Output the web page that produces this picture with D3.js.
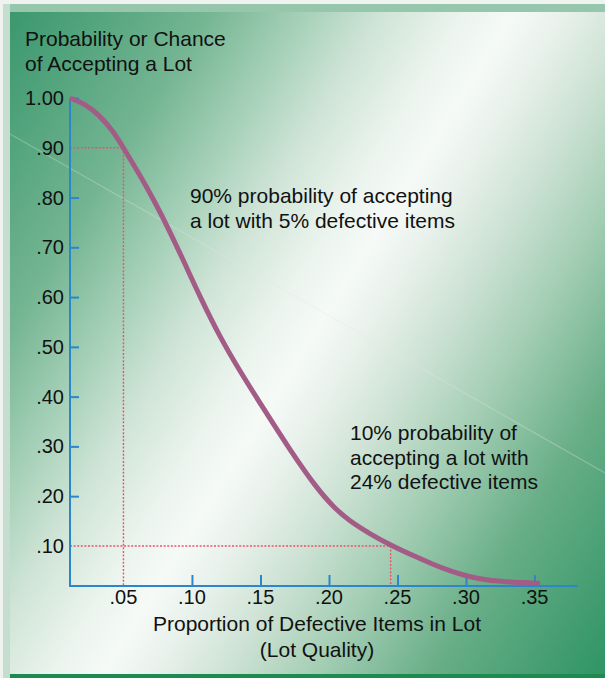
<!DOCTYPE html>
<html>
<head>
<meta charset="utf-8">
<script src="https://cdn.jsdelivr.net/npm/d3@7"></script>
<style>
  html, body { margin: 0; padding: 0; background: #eef3ef; }
  svg { display: block; }
  text { font-family: "Liberation Sans", Arial, Helvetica, sans-serif; fill: #111; }
</style>
</head>
<body>
<svg id="chart" width="605" height="678"></svg>
<script>
// ---- data ----
const defectProportion = [0.011, 0.022, 0.033, 0.042, 0.050, 0.062, 0.073, 0.084, 0.095, 0.106, 0.120, 0.135, 0.152, 0.1715, 0.191, 0.204, 0.215, 0.230, 0.246, 0.261, 0.276, 0.288, 0.301, 0.314, 0.325, 0.339, 0.354];
const acceptProbability = [1.000, 0.988, 0.964, 0.935, 0.900, 0.845, 0.791, 0.731, 0.666, 0.600, 0.522, 0.451, 0.377, 0.293, 0.216, 0.176, 0.150, 0.124, 0.100, 0.081, 0.063, 0.050, 0.039, 0.032, 0.029, 0.026, 0.025];
const yTickLabels = ["1.00", ".90", ".80", ".70", ".60", ".50", ".40", ".30", ".20", ".10"];
const yTickLabelValues = [1.0, 0.9, 0.8, 0.7, 0.6, 0.5, 0.4, 0.3, 0.2, 0.1];
const yTickMarkValues = [1.0, 0.8, 0.7, 0.6, 0.5, 0.4, 0.3, 0.2];
const xTickLabels = [".05", ".10", ".15", ".20", ".25", ".30", ".35"];
const xTickLabelValues = [0.05, 0.10, 0.15, 0.20, 0.25, 0.30, 0.35];
const xTickMarkValues = [0.10, 0.15, 0.20, 0.25, 0.30, 0.35];
const guidePoints = [{x: 0.05, y: 0.90}, {x: 0.245, y: 0.10}];
const titleLines = ["Probability or Chance", "of Accepting a Lot"];
const xTitleLines = ["Proportion of Defective Items in Lot", "(Lot Quality)"];
const note1 = ["90% probability of accepting", "a lot with 5% defective items"];
const note2 = ["10% probability of", "accepting a lot with", "24% defective items"];

const svg = d3.select("#chart");
const W = 605, H = 678;

// ---- background ----
const defs = svg.append("defs");
const g1 = defs.append("linearGradient").attr("id", "bg")
  .attr("gradientUnits", "userSpaceOnUse")
  .attr("x1", 0).attr("y1", 0).attr("x2", 738.6).attr("y2", 459.4);
[[0, "#37956b"], [0.10, "#52a47d"], [0.21, "#74b592"], [0.30, "#a3cfb6"], [0.38, "#cfe4d6"],
 [0.46, "#ebf4ee"], [0.51, "#f6faf7"], [0.56, "#e8f1eb"], [0.63, "#cde2d4"], [0.72, "#a2cdb3"],
 [0.83, "#68ae87"], [1.0, "#2f9464"]].forEach(([o, c]) => g1.append("stop").attr("offset", o).attr("stop-color", c));

svg.append("rect").attr("x", 0).attr("y", 0).attr("width", W).attr("height", H).attr("fill", "#eef3ef");
svg.append("rect").attr("x", 3).attr("y", 4).attr("width", W - 3).attr("height", 8).attr("fill", "#96c6ac");
svg.append("rect").attr("x", 3).attr("y", 4).attr("width", 7).attr("height", H - 4).attr("fill", "#c4ddce");
svg.append("rect").attr("x", 10).attr("y", 12).attr("width", W - 10).attr("height", 662).attr("fill", "url(#bg)");
svg.append("rect").attr("x", 10).attr("y", 674).attr("width", W - 10).attr("height", 4).attr("fill", "#1d8a4f");

// faint scratch artefact
svg.append("line").attr("x1", 10).attr("y1", 134).attr("x2", 605).attr("y2", 473)
  .attr("stroke", "#e8e8e8").attr("stroke-width", 1.2).attr("opacity", 0.3);

// ---- scales ----
const x = d3.scaleLinear().domain([0.011, 0.3815]).range([70, 577.7]);
const y = d3.scaleLinear().domain([0.0195, 1.0]).range([586, 98]);
const axisColor = "#2b87c9";

// guide dotted lines
const guides = svg.append("g").attr("stroke", "#f0506a").attr("stroke-width", 1.4)
  .attr("stroke-dasharray", "2,1.6").attr("fill", "none");
guidePoints.forEach(p => {
  guides.append("line").attr("x1", x(0.011)).attr("x2", x(p.x)).attr("y1", y(p.y)).attr("y2", y(p.y));
  guides.append("line").attr("x1", x(p.x)).attr("x2", x(p.x)).attr("y1", y(p.y)).attr("y2", y(0.0195));
});

// axes
const yAxis = d3.axisRight(y).tickValues(yTickMarkValues).tickSize(9).tickFormat("");
const yg = svg.append("g").attr("transform", `translate(${x(0.011)},0)`).call(yAxis);
const xAxis = d3.axisTop(x).tickValues(xTickMarkValues).tickSize(11).tickFormat("");
const xg = svg.append("g").attr("transform", `translate(0,${y(0.0195)})`).call(xAxis);
[yg, xg].forEach(g => {
  g.select(".domain").remove();
  g.selectAll(".tick line").attr("stroke", axisColor).attr("stroke-width", 2);
});
svg.append("line").attr("x1", x(0.011)).attr("x2", x(0.011)).attr("y1", y(1.0)).attr("y2", y(0.0195) + 1)
  .attr("stroke", axisColor).attr("stroke-width", 2);
svg.append("line").attr("x1", x(0.011) - 1).attr("x2", x(0.3815)).attr("y1", y(0.0195)).attr("y2", y(0.0195))
  .attr("stroke", axisColor).attr("stroke-width", 2);

// tick labels
svg.append("g").selectAll("text").data(yTickLabelValues).join("text")
  .attr("x", 64).attr("y", d => y(d)).attr("dy", "0.35em")
  .attr("text-anchor", "end").attr("font-size", 20)
  .text((d, i) => yTickLabels[i]);
svg.append("g").selectAll("text").data(xTickLabelValues).join("text")
  .attr("x", d => x(d)).attr("y", 604)
  .attr("text-anchor", "middle").attr("font-size", 20)
  .text((d, i) => xTickLabels[i]);

// OC curve
const pts = defectProportion.map((d, i) => [d, acceptProbability[i]]);
const line = d3.line().x(d => x(d[0])).y(d => y(d[1])).curve(d3.curveBasis);
svg.append("path").attr("d", line(pts)).attr("fill", "none")
  .attr("stroke", "#a35c86").attr("stroke-width", 5);

// texts
const addLines = (lines, x0, y0, dy, anchor) => {
  lines.forEach((t, i) => svg.append("text").attr("x", x0).attr("y", y0 + i * dy)
    .attr("font-size", 21).attr("text-anchor", anchor).text(t));
};
addLines(titleLines, 25, 46, 25, "start");
addLines(xTitleLines, 317, 631, 25.5, "middle");
addLines(note1, 190, 203, 25, "start");
addLines(note2, 350, 440, 24.5, "start");
</script>
</body>
</html>
